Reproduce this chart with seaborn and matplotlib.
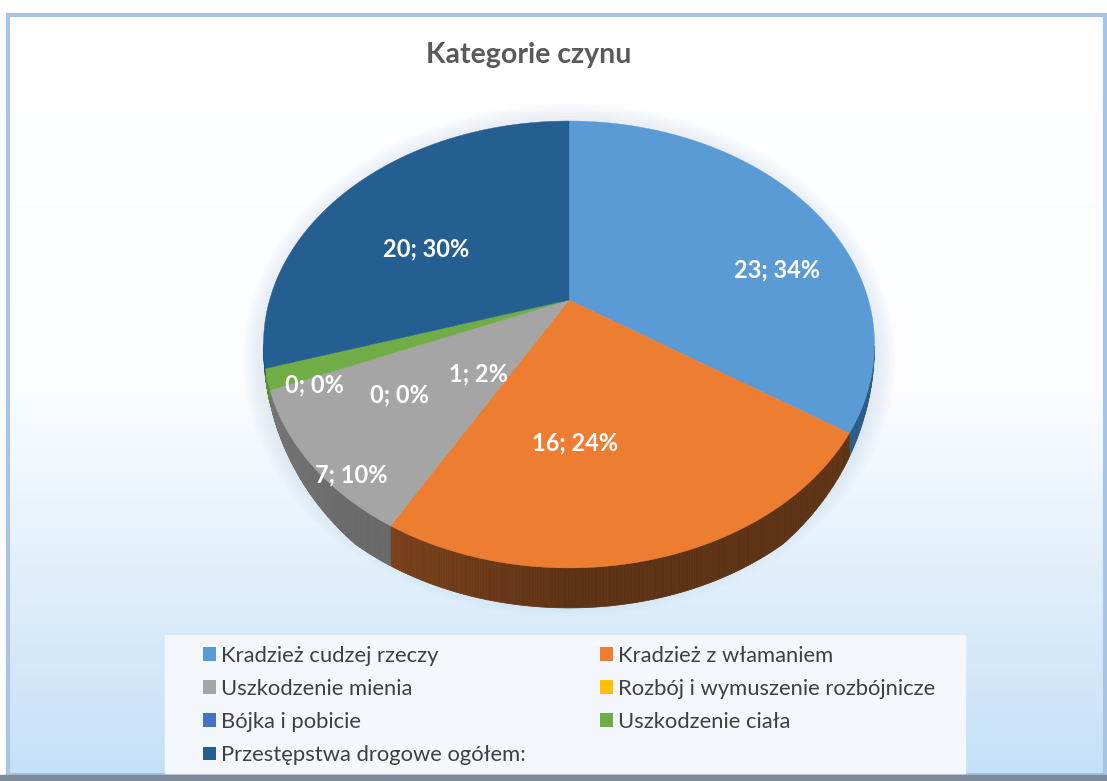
import numpy as np
import matplotlib.pyplot as plt
import matplotlib.colors as mcolors
from matplotlib.patches import Patch, Rectangle, Polygon, Ellipse
from matplotlib.collections import PolyCollection
import seaborn as sns

sns.set_theme(style="white")
plt.rcParams["font.family"] = ["Lato", "DejaVu Sans"]

# data
categories = ["Kradzież cudzej rzeczy", "Kradzież z włamaniem", "Uszkodzenie mienia",
              "Rozbój i wymuszenie rozbójnicze", "Bójka i pobicie", "Uszkodzenie ciała",
              "Przestępstwa drogowe ogółem:"]
counts = [23, 16, 7, 0, 0, 1, 20]
percents = [34, 24, 10, 0, 0, 2, 30]
colors = ["#5B9BD5", "#ED7D31", "#A5A5A5", "#FFC000", "#4472C4", "#70AD47", "#255E91"]
side_colors = ["#2c5a87", "#5e3214", "#585858", "#7f6000", "#223a66", "#3a5a24", "#143350"]
side_light = [0.6, 0.6, 0.35, 0.6, 0.6, 0.6, 0.6]

W, H = 1107, 781
fig = plt.figure(figsize=(W / 100, H / 100), dpi=100)

# background with gradient
bg = fig.add_axes([0, 0, 1, 1])
bg.set_xlim(0, W)
bg.set_ylim(H, 0)
bg.axis("off")
grad = np.linspace(0, 1, 256).reshape(-1, 1)
cmap = mcolors.LinearSegmentedColormap.from_list("bg", ["#ffffff", "#fbfdff", "#c4e0f8"])
bg.imshow(grad, cmap=cmap, extent=[8, W - 2, 775, 15], aspect="auto", zorder=0)
bg.add_patch(Rectangle((8, 15), W - 10, 760, fill=False, ec="#a9c4e0", lw=3, zorder=1))
bg.add_patch(Rectangle((0, 775), W, 6, color="#7d8a99", zorder=1))
bg.add_patch(Rectangle((165, 635), 800, 138, color="#f4f8fc", zorder=1))
bg.text(529, 55, "Kategorie czynu", ha="center", va="center", fontsize=20.5,
        fontweight="bold", color="#595959")

# pie geometry from matplotlib, drawn in a hidden axes
tmp = fig.add_axes([0, 0, 0.01, 0.01])
wedges, _ = tmp.pie(counts, startangle=90, counterclock=False, radius=1)
tmp.remove()

# perspective projection of the unit disc onto pixel coordinates
cx, cy = 569, 300
k, sy = 0.199, 214.6
sx = 305.5 * np.sqrt(1 - k ** 2)
depth = 40


def project(x, y):
    d = 1 + k * y
    return cx + sx * x / d, cy - sy * y / d


ax = bg
# soft shadow under the pie
for s in range(8):
    ax.add_patch(Ellipse((cx, 360), 2 * 305 + 6 * s, 470 + 6 * s, fc="#9cb8d4",
                         alpha=0.035, lw=0, zorder=1.5))

for i, w in enumerate(wedges):
    if w.theta2 - w.theta1 < 1e-6:
        continue
    t = np.deg2rad(np.linspace(w.theta1, w.theta2, 200))
    # side (only the front part is visible, thinning towards the silhouette)
    vis = np.sin(t) < -k
    if vis.sum() > 1:
        tv = t[vis]
        px, py = project(np.cos(tv), np.sin(tv))
        dz = depth * np.clip((-np.sin(tv) - k) / 0.6, 0, 1)
        quads, cols = [], []
        base = np.array(mcolors.to_rgb(side_colors[i]))
        for j in range(len(tv) - 1):
            quads.append([(px[j], py[j]), (px[j + 1], py[j + 1]),
                          (px[j + 1], py[j + 1] + dz[j + 1]), (px[j], py[j] + dz[j])])
            f = 1 + side_light[i] * max(0.0, -np.cos(tv[j]))
            cols.append(np.clip(base * f, 0, 1))
        ax.add_collection(PolyCollection(quads, facecolors=cols, edgecolors=cols,
                                         linewidths=0.5, zorder=2))
    # top face
    px, py = project(np.cos(t), np.sin(t))
    verts = np.vstack([[cx, cy], np.column_stack([px, py])])
    ax.add_patch(Polygon(verts, closed=True, fc=colors[i], ec=colors[i], lw=0.3, zorder=3))

# data labels: radius fraction and angular nudge per wedge
labels = [f"{c}; {p}%" for c, p in zip(counts, percents)]
label_r = [0.73, 0.59, 0.94, 0.66, 0.87, 0.43, 0.56]
nudge = [-16.8, -11.8, 6.7, 15, 2, 28.6, 9.8]
for i, w in enumerate(wedges):
    a = np.deg2rad((w.theta1 + w.theta2) / 2 + nudge[i])
    lx, ly = project(label_r[i] * np.cos(a), label_r[i] * np.sin(a))
    ax.text(lx, ly, labels[i], ha="center", va="center", fontsize=17,
            fontweight="bold", color="white", zorder=5)

order = [0, 2, 4, 6, 1, 3, 5]
handles = [Patch(facecolor=colors[i], edgecolor="none") for i in order]
fig.legend(handles, [categories[i] for i in order], ncol=2, frameon=False,
           loc="upper left", bbox_to_anchor=(183 / W, 1 - 626 / H),
           fontsize=15.8, labelcolor="#404040", handlelength=0.6, handleheight=0.6,
           handletextpad=0.25, columnspacing=3.35, labelspacing=0.6)

fig.savefig("out.png", dpi=100)
